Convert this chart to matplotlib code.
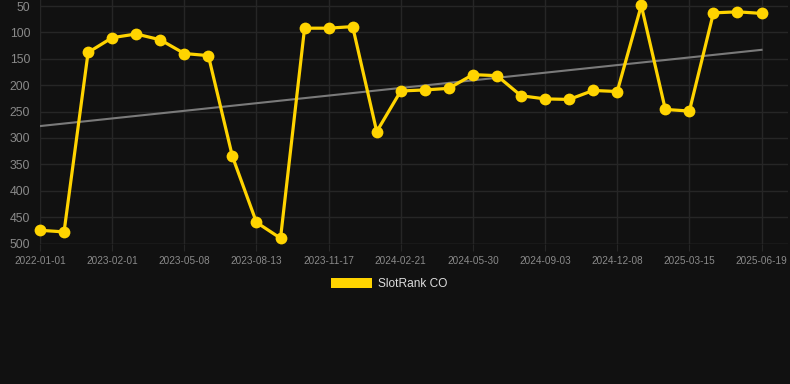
import matplotlib
matplotlib.use('Agg')

import numpy as np
import matplotlib.pyplot as plt
from matplotlib.patches import Patch

# ========== data ==========
dates = [
    '2022-01-01', '2022-11-27', '2022-12-30',
    '2023-02-01', '2023-03-05', '2023-04-06',
    '2023-05-08', '2023-06-09', '2023-07-11',
    '2023-08-13', '2023-09-14', '2023-10-16',
    '2023-11-17', '2023-12-19', '2024-01-20',
    '2024-02-21', '2024-03-24', '2024-04-27',
    '2024-05-30', '2024-07-02', '2024-08-03',
    '2024-09-03', '2024-10-05', '2024-11-06',
    '2024-12-08', '2025-01-09', '2025-02-11',
    '2025-03-15', '2025-04-16', '2025-05-18',
    '2025-06-19',
]
rank = [475, 478, 138, 110, 103, 114, 140, 144, 335, 460, 490,
        92, 92, 89, 288, 211, 209, 206, 180, 182, 220, 226, 227,
        210, 212, 49, 246, 249, 63, 61, 64]
series_name = 'SlotRank CO'
yticks = [50, 100, 150, 200, 250, 300, 350, 400, 450, 500]

# ========== style ==========
bg = '#111111'
grid_c = '#262626'
tick_c = '#8a8a8a'
gold = '#FFD400'
plt.rcParams['font.family'] = ['Liberation Sans', 'DejaVu Sans']

x = np.arange(len(rank))
trend = np.polyval(np.polyfit(x, rank, 1), x)  # linear trend

fig = plt.figure(figsize=(7.9, 3.84), dpi=100, facecolor=bg)
ax = fig.add_axes([40/790, 1 - 243.5/384, 748/790, 243.5/384])
ax.set_facecolor(bg)

ax.plot(x, trend, color='#7a7a7a', linewidth=1.5, zorder=2)
ax.plot(x, rank, color=gold, linewidth=2.3, marker='o', markersize=8.5,
        markeredgewidth=0, zorder=3, clip_on=False)

ax.set_xlim(0, 31.1)
ax.set_ylim(500, 38.6)
ax.set_yticks(yticks)
ax.set_xticks(x[::3])
ax.set_xticklabels(dates[::3])

ax.grid(True, color=grid_c, linewidth=1)
for s in ax.spines.values():
    s.set_visible(False)
ax.axhline(500, color='#333333', linewidth=1, zorder=1)

ax.tick_params(axis='y', length=0, pad=7, labelsize=8.8, labelcolor=tick_c)
ax.tick_params(axis='x', length=5, color=grid_c, pad=4, labelsize=7.2,
               labelcolor=tick_c)

fig.legend(handles=[Patch(facecolor=gold, edgecolor='none', label=series_name)],
           loc='center', bbox_to_anchor=(0.493, 1 - 284/384), frameon=False,
           fontsize=8.6, labelcolor='#dddddd', handlelength=3.4,
           handleheight=1.0, handletextpad=0.5)

fig.savefig('out.png', dpi=100, facecolor=bg)
